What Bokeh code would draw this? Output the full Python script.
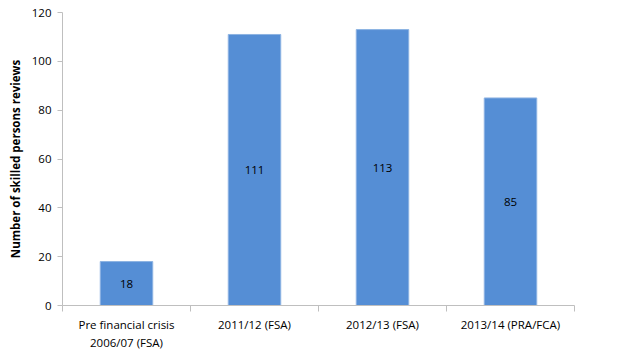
from bokeh.plotting import figure
from bokeh.models import ColumnDataSource, FixedTicker, Range1d, LabelSet
from bokeh.core.properties import value
from bokeh.embed import file_html
from bokeh.resources import INLINE

categories = ["Pre financial crisis\n2006/07 (FSA)", "2011/12 (FSA)", "2012/13 (FSA)", "2013/14 (PRA/FCA)"]
values = [18, 111, 113, 85]
y_ticks = [0, 20, 40, 60, 80, 100, 120]

xs = [i + 0.5 for i in range(len(categories))]
src = ColumnDataSource(dict(x=xs, top=values, mid=[v / 2 for v in values], lab=[str(v) for v in values]))

FONT = "Open Sans"
FS = "11.5px"

p = figure(width=633, height=352, output_backend="svg", toolbar_location=None,
           x_range=Range1d(0, len(categories)), y_range=Range1d(0, 120),
           min_border_left=62, min_border_right=59, min_border_top=12, min_border_bottom=47)
p.outline_line_color = None
p.xgrid.visible = False
p.ygrid.visible = False
p.background_fill_color = "white"
p.border_fill_color = "white"

p.vbar(x="x", top="top", width=0.41, source=src, fill_color="#558ED5", line_color="#8DB3E2", line_width=1)

labels = LabelSet(x="x", y="mid", text="lab", source=src, text_align="center", text_baseline="middle",
                  text_font=value(FONT), text_font_size=FS, text_color="#000000")
p.add_layout(labels)

axis_col = "#BFBFBF"
xa = p.xaxis[0]
xa.ticker = FixedTicker(ticks=xs, minor_ticks=list(range(len(categories) + 1)))
xa.major_label_overrides = {x: c for x, c in zip(xs, categories)}
xa.major_tick_line_color = None
xa.major_tick_out = 0
xa.major_tick_in = 0
xa.minor_tick_line_color = axis_col
xa.minor_tick_out = 6
xa.minor_tick_in = 0
xa.axis_line_color = axis_col
xa.major_label_text_font = FONT
xa.major_label_text_font_size = FS
xa.major_label_text_color = "#000000"
xa.major_label_standoff = 5

ya = p.yaxis[0]
ya.ticker = FixedTicker(ticks=y_ticks)
ya.minor_tick_line_color = None
ya.major_tick_line_color = axis_col
ya.major_tick_out = 5
ya.major_tick_in = 0
ya.axis_line_color = axis_col
ya.major_label_text_font = FONT
ya.major_label_text_font_size = FS
ya.major_label_text_color = "#000000"
ya.major_label_standoff = 6
ya.axis_label = "Number of skilled persons reviews"
ya.axis_label_text_font = FONT
ya.axis_label_text_font_style = "bold"
ya.axis_label_text_font_size = FS
ya.axis_label_text_color = "#000000"
ya.axis_label_standoff = 6

open("out.html", "w").write(file_html(p, INLINE))
